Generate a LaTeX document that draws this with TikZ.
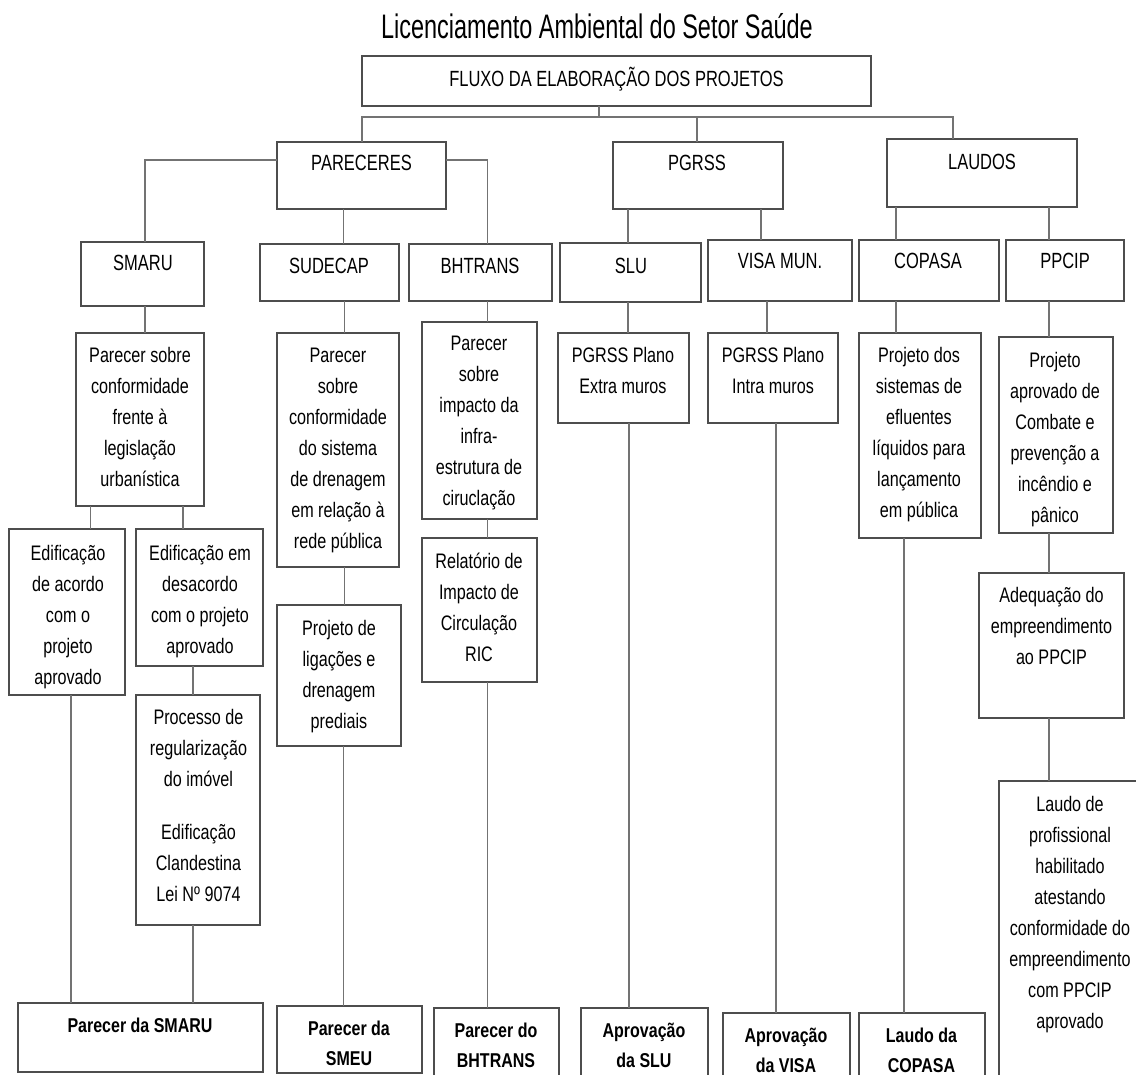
\documentclass[tikz,border=0pt]{standalone}
\usepackage{fontspec}
\setmainfont{Liberation Sans}[FakeStretch=0.77]
\newfontfamily\titlefam{Liberation Sans}[FakeStretch=0.69]
\newfontfamily\headfam{Liberation Sans}[FakeStretch=0.75]
\newfontfamily\boldfam{Liberation Sans}[FakeStretch=0.80]
\definecolor{boxline}{HTML}{4D4D4D}
\definecolor{conline}{HTML}{737373}
\newcommand\fbody{\fontsize{21}{31}\selectfont}
\newcommand\fhead{\headfam\fontsize{22}{26}\selectfont}
\newcommand\fbold{\boldfam\fontsize{20}{30}\selectfont\bfseries}
\newcommand\ftitle{\titlefam\fontsize{34}{40}\selectfont}
\tikzset{
  box/.style={draw=boxline, line width=1.4pt, fill=white, rectangle, inner sep=0pt, outer sep=0pt},
  con/.style={draw=conline, line width=1.4pt},
  lbl/.style={anchor=base, inner sep=0pt, outer sep=0pt, text=black}
}
\newcommand\mybox[5]{\node[box, minimum width={(#4-#2)*1pt}, minimum height={(#5-#3)*1pt}, anchor=north west] (#1) at (#2,#3) {};}
\newcommand\mytext[5]{\node[lbl] (#1) at (#2,#3) {\parbox[t]{240pt}{\centering #4 #5}};}
\begin{document}
\begin{tikzpicture}[x=1pt,y=-1pt]
\useasboundingbox (0,0) rectangle (1136,1075);
\clip (0,0) rectangle (1136,1075);
\fill[white] (0,0) rectangle (1136,1075);

% title
\node[lbl] (title) at (597,39) {\ftitle Licenciamento Ambiental do Setor Saúde};

% boxes
\mybox{fluxo}{362}{56}{871}{106}
\mybox{pareceres}{277}{142}{446}{209}
\mybox{pgrss}{613}{142}{783}{209}
\mybox{laudos}{887}{139}{1077}{207}
\mybox{smaru}{81}{242}{204}{306}
\mybox{sudecap}{260}{244}{399}{301}
\mybox{bhtrans}{409}{244}{552}{301}
\mybox{slu}{560}{243}{701}{302}
\mybox{visa}{708}{240}{852}{301}
\mybox{copasa}{859}{240}{999}{301}
\mybox{ppcip}{1006}{240}{1124}{301}
\mybox{smaruA}{76}{333}{204}{506}
\mybox{sudA}{277}{333}{399}{567}
\mybox{bhtA}{422}{322}{537}{519}
\mybox{bhtB}{422}{538}{537}{682}
\mybox{edA}{9}{529}{125}{695}
\mybox{edB}{136}{529}{263}{666}
\mybox{proc}{136}{695}{260}{925}
\mybox{sudB}{277}{605}{401}{746}
\mybox{sluA}{558}{333}{689}{423}
\mybox{visaA}{708}{333}{838}{423}
\mybox{copA}{859}{333}{981}{538}
\mybox{ppA}{999}{337}{1113}{533}
\mybox{ppB}{979}{573}{1124}{718}
\mybox{laudo}{999}{781}{1150}{1090}
\mybox{psmaru}{18}{1003}{263}{1072}
\mybox{psmeu}{277}{1006}{422}{1073}
\mybox{pbht}{434}{1008}{559}{1090}
\mybox{aslu}{581}{1008}{708}{1090}
\mybox{avisa}{723}{1013}{850}{1090}
\mybox{lcop}{859}{1013}{985}{1090}

% texts
\node[lbl] (tfluxo) at (616.5,87) {\fhead FLUXO DA ELABORAÇÃO DOS PROJETOS};
\mytext{tpareceres}{361.5}{171}{\fhead}{PARECERES}
\mytext{tpgrss}{697}{171}{\fhead}{PGRSS}
\mytext{tlaudos}{982}{170}{\fhead}{LAUDOS}
\mytext{tsmaru}{143}{271}{\fhead}{SMARU}
\mytext{tsudecap}{329}{274}{\fhead}{SUDECAP}
\mytext{tbhtrans}{480}{274}{\fhead}{BHTRANS}
\mytext{tslu}{631}{274}{\fhead}{SLU}
\mytext{tvisa}{780}{269}{\fhead}{VISA MUN.}
\mytext{tcopasa}{928}{269}{\fhead}{COPASA}
\mytext{tppcip}{1065}{269}{\fhead}{PPCIP}

\mytext{tsmaruA}{140}{362.5}{\fbody}{Parecer sobre\\conformidade\\frente à\\legislação\\urbanística}
\mytext{tsudA}{338}{362.5}{\fbody}{Parecer\\sobre\\conformidade\\do sistema\\de drenagem\\em relação à\\rede pública}
\mytext{tbhtA}{479}{350.5}{\fbody}{Parecer\\sobre\\impacto da\\infra-\\estrutura de\\ciruclação}
\mytext{tbhtB}{479}{568.5}{\fbody}{Relatório de\\Impacto de\\Circulação\\RIC}
\mytext{tedA}{68}{560.5}{\fbody}{Edificação\\de acordo\\com o\\projeto\\aprovado}
\mytext{tedB}{200}{560.5}{\fbody}{Edificação em\\desacordo\\com o projeto\\aprovado}
\mytext{tproc}{198.5}{724.5}{\fbody}{Processo de\\regularização\\do imóvel\\[22pt]Edificação\\Clandestina\\Lei Nº 9074}
\mytext{tsudB}{339}{635.5}{\fbody}{Projeto de\\ligações e\\drenagem\\prediais}
\mytext{tsluA}{623}{362.5}{\fbody}{PGRSS Plano\\Extra muros}
\mytext{tvisaA}{773}{362.5}{\fbody}{PGRSS Plano\\Intra muros}
\mytext{tcopA}{919}{362.5}{\fbody}{Projeto dos\\sistemas de\\efluentes\\líquidos para\\lançamento\\em pública}
\mytext{tppA}{1055}{367.5}{\fbody}{Projeto\\aprovado de\\Combate e\\prevenção a\\incêndio e\\pânico}
\mytext{tppB}{1051.5}{602.5}{\fbody}{Adequação do\\empreendimento\\ao PPCIP}
\mytext{tlaudo}{1070}{811.5}{\fbody}{Laudo de\\profissional\\habilitado\\atestando\\conformidade do\\empreendimento\\com PPCIP\\aprovado}

\mytext{tpsmaru}{140}{1032}{\fbold}{Parecer da SMARU}
\mytext{tpsmeu}{349}{1035}{\fbold}{Parecer da\\SMEU}
\mytext{tpbht}{496}{1037}{\fbold}{Parecer do\\BHTRANS}
\mytext{taslu}{644}{1037}{\fbold}{Aprovação\\da SLU}
\mytext{tavisa}{786}{1042}{\fbold}{Aprovação\\da VISA}
\mytext{tlcop}{921.5}{1042}{\fbold}{Laudo da\\COPASA}

% connectors
\coordinate (j0) at (599,117);
\draw[con] (fluxo.south -| j0) -- (j0);
\draw[con] (pareceres.north -| 362,0) |- (j0) -| (laudos.north -| 953,0);
\draw[con] (pgrss.north -| 697,0) -- (j0 -| 697,0);

\draw[con] (pareceres.west |- 0,160) -| (smaru.north -| 145,0);
\draw[con] (pareceres.east |- 0,160) -| (bhtrans.north -| 487.5,0);
\draw[con] (pareceres.south -| 343.5,0) -- (sudecap.north -| 343.5,0);

\draw[con] (pgrss.south -| 628,0) -- (slu.north -| 628,0);
\draw[con] (pgrss.south -| 761,0) -- (visa.north -| 761,0);
\draw[con] (laudos.south -| 896,0) -- (copasa.north -| 896,0);
\draw[con] (laudos.south -| 1049,0) -- (ppcip.north -| 1049,0);

\draw[con] (smaru.south -| 145,0) -- (smaruA.north -| 145,0);
\draw[con] (sudecap.south -| 344.5,0) -- (sudA.north -| 344.5,0);
\draw[con] (bhtrans.south -| 487.5,0) -- (bhtA.north -| 487.5,0);
\draw[con] (bhtA.south -| 487.5,0) -- (bhtB.north -| 487.5,0);
\draw[con] (slu.south -| 628,0) -- (sluA.north -| 628,0);
\draw[con] (visa.south -| 767,0) -- (visaA.north -| 767,0);
\draw[con] (copasa.south -| 896,0) -- (copA.north -| 896,0);
\draw[con] (ppcip.south -| 1049,0) -- (ppA.north -| 1049,0);
\draw[con] (ppA.south -| 1049,0) -- (ppB.north -| 1049,0);
\draw[con] (ppB.south -| 1049,0) -- (laudo.north -| 1049,0);

\draw[con] (smaruA.south -| 90.5,0) -- (edA.north -| 90.5,0);
\draw[con] (smaruA.south -| 183,0) -- (edB.north -| 183,0);
\draw[con] (edB.south -| 193,0) -- (proc.north -| 193,0);
\draw[con] (edA.south -| 71,0) -- (psmaru.north -| 71,0);
\draw[con] (proc.south -| 193,0) -- (psmaru.north -| 193,0);
\draw[con] (sudA.south -| 344.5,0) -- (sudB.north -| 344.5,0);
\draw[con] (sudB.south -| 343.5,0) -- (psmeu.north -| 343.5,0);
\draw[con] (bhtB.south -| 487.5,0) -- (pbht.north -| 487.5,0);
\draw[con] (sluA.south -| 629,0) -- (aslu.north -| 629,0);
\draw[con] (visaA.south -| 776,0) -- (avisa.north -| 776,0);
\draw[con] (copA.south -| 904,0) -- (lcop.north -| 904,0);
\end{tikzpicture}
\end{document}
